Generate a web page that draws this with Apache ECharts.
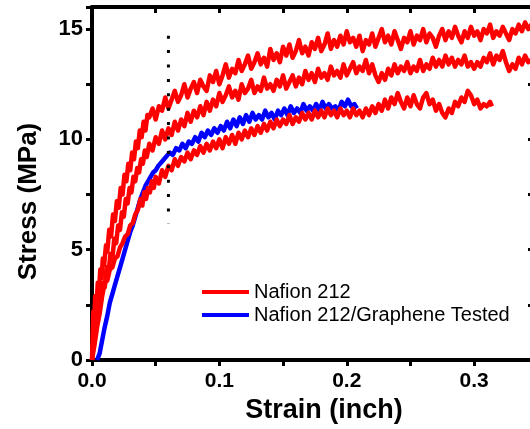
<!DOCTYPE html>
<html>
<head>
<meta charset="utf-8">
<script src="https://cdn.jsdelivr.net/npm/echarts@6/dist/echarts.min.js"></script>
<style>
html,body{margin:0;padding:0;overflow:hidden;background:#fff;}
#chart{width:560px;height:429px;}
</style>
</head>
<body>
<div id="chart"></div>
<script>
// ---- data (strain in inch, stress in MPa) ----
var nafionA = [
[0,0],[0.0005,1.0],[0.0010,2.2],[0.0015,1.5],[0.0025,2.9],[0.0035,2.4],[0.0045,3.5],[0.0055,3.1],[0.0065,4.1],[0.0075,3.7],
[0.0085,4.6],[0.0095,4.3],[0.0110,5.2],[0.0120,4.9],[0.0135,5.9],[0.0150,5.6],[0.0165,6.6],[0.0180,6.3],[0.0195,7.2],[0.0210,6.9],
[0.0225,7.8],[0.0240,7.5],[0.0255,8.4],[0.0270,8.1],[0.0285,8.9],[0.0300,8.6],[0.0315,9.4],[0.0330,9.1],[0.0345,9.9],[0.0360,9.6],
[0.0375,10.4],[0.0390,10.1],[0.0405,10.8],[0.0420,10.4],[0.0435,11.1],
[0.0450,11.0],[0.0475,11.4],[0.0500,10.9],[0.0525,11.5],[0.0550,11.3],[0.0575,11.9],[0.0600,11.4],[0.0625,11.8],[0.0650,12.2],[0.0675,11.7],
[0.0700,12.0],[0.0725,12.5],[0.0750,11.9],[0.0775,12.3],[0.0800,12.6],[0.0825,12.1],[0.0850,12.7],[0.0875,12.4],[0.0900,12.2],[0.0925,12.9],
[0.0950,12.6],[0.0975,13.1],[0.1000,12.5],[0.1025,12.9],[0.1050,13.4],[0.1075,12.8],[0.1100,13.2],[0.1125,13.0],[0.1150,13.6],[0.1175,13.1],
[0.1200,13.4],[0.1225,13.8],[0.1250,13.2],[0.1275,13.5],[0.1300,13.9],[0.1325,13.4],[0.1350,13.7],[0.1375,13.3],[0.1400,14.1],[0.1425,13.6],
[0.1450,13.9],[0.1475,13.5],[0.1500,14.2],[0.1525,13.8],[0.1550,14.3],[0.1575,13.7],[0.1600,14.0],[0.1625,14.5],[0.1650,13.9],[0.1675,14.2],
[0.1700,13.8],[0.1725,14.4],[0.1750,14.1],[0.1775,14.6],[0.1800,14.0],[0.1825,14.3],[0.1850,14.8],[0.1875,14.1],[0.1900,14.5],[0.1925,14.2],
[0.1950,14.7],[0.1975,14.3],[0.2000,14.9],[0.2025,14.4],[0.2050,14.6],[0.2075,14.2],[0.2100,14.7],[0.2125,14.0],[0.2150,14.5],[0.2175,14.3],
[0.2200,14.8],[0.2225,14.2],[0.2250,14.6],[0.2275,15.0],[0.2300,14.4],[0.2325,14.7],[0.2350,14.3],[0.2375,14.9],[0.2400,14.5],[0.2425,14.1],
[0.2450,14.6],[0.2475,14.4],[0.2500,14.9],[0.2525,14.3],[0.2550,14.7],[0.2575,14.5],[0.2600,15.0],[0.2625,14.4],[0.2650,14.8],[0.2675,14.6],
[0.2700,14.2],[0.2725,14.7],[0.2750,15.0],[0.2775,14.5],[0.2800,14.9],[0.2825,14.6],[0.2850,15.1],[0.2875,14.7],[0.2900,14.4],[0.2925,14.9],
[0.2950,14.6],[0.2975,15.1],[0.3000,14.7],[0.3025,14.9],[0.3050,14.5],[0.3075,15.0],[0.3100,14.8],[0.3125,15.2],[0.3150,14.6],[0.3175,14.9],
[0.3200,14.7],[0.3225,15.1],[0.3250,14.8],[0.3275,14.5],[0.3300,15.0],[0.3325,14.8],[0.3350,15.2],[0.3375,14.9],[0.3400,15.3],[0.3425,15.0],
[0.3450,15.2],[0.3480,14.9]
];
var nafionB = [
[0,0],[0.0010,0.7],[0.0020,1.6],[0.0030,1.2],[0.0040,2.3],[0.0050,2.0],[0.0060,2.9],[0.0070,2.7],[0.0085,3.5],[0.0100,3.3],
[0.0115,4.2],[0.0130,4.0],[0.0145,4.8],[0.0160,4.6],[0.0175,5.5],[0.0190,5.3],[0.0205,6.1],[0.0220,5.9],[0.0235,6.7],[0.0250,6.5],
[0.0265,7.3],[0.0280,7.1],[0.0295,7.8],[0.0310,7.6],[0.0325,8.3],[0.0340,8.1],[0.0355,8.7],[0.0370,8.5],[0.0385,9.1],[0.0400,8.9],
[0.0415,9.5],[0.0430,9.2],
[0.0450,9.8],[0.0475,9.5],[0.0500,10.1],[0.0525,9.8],[0.0550,10.4],[0.0575,10.0],[0.0600,10.5],[0.0625,10.2],[0.0650,10.8],[0.0675,10.4],
[0.0700,10.9],[0.0725,10.6],[0.0750,11.2],[0.0775,10.8],[0.0800,11.3],[0.0825,11.0],[0.0850,11.5],[0.0875,11.1],[0.0900,11.7],[0.0925,11.3],
[0.0950,11.8],[0.0975,11.5],[0.1000,12.1],[0.1025,11.7],[0.1050,12.0],[0.1075,12.4],[0.1100,11.9],[0.1125,12.2],[0.1150,11.8],[0.1175,12.5],
[0.1200,12.1],[0.1225,12.3],[0.1250,12.7],[0.1275,12.1],[0.1300,12.4],[0.1325,12.2],[0.1350,12.8],[0.1375,12.3],[0.1400,12.5],[0.1425,12.2],
[0.1450,12.7],[0.1475,12.4],[0.1500,12.9],[0.1525,12.3],[0.1550,12.6],[0.1575,12.9],[0.1600,12.4],[0.1625,12.8],[0.1650,12.5],[0.1675,13.1],
[0.1700,12.7],[0.1725,13.0],[0.1750,12.6],[0.1775,13.2],[0.1800,12.8],[0.1825,13.0],[0.1850,12.7],[0.1875,13.3],[0.1900,12.9],[0.1925,13.1],
[0.1950,12.8],[0.1975,13.4],[0.2000,12.9],[0.2025,13.2],[0.2050,13.5],[0.2075,13.0],[0.2100,13.3],[0.2125,13.1],[0.2150,13.6],[0.2175,13.0],
[0.2200,13.4],[0.2225,12.9],[0.2250,12.6],[0.2275,13.0],[0.2300,12.7],[0.2325,13.2],[0.2350,12.9],[0.2375,13.4],[0.2400,13.0],[0.2425,13.3],
[0.2450,13.1],[0.2475,13.5],[0.2500,13.0],[0.2525,13.3],[0.2550,13.1],[0.2575,13.6],[0.2600,13.1],[0.2625,13.4],[0.2650,13.2],[0.2675,13.7],
[0.2700,13.3],[0.2725,13.6],[0.2750,13.3],[0.2775,13.8],[0.2800,13.4],[0.2825,13.7],[0.2850,13.3],[0.2875,13.6],[0.2900,13.4],[0.2925,13.8],
[0.2950,13.3],[0.2975,13.5],[0.3000,13.2],[0.3025,13.5],[0.3050,13.3],[0.3075,13.7],[0.3100,13.5],[0.3125,13.9],[0.3150,13.4],[0.3175,13.8],
[0.3200,13.6],[0.3225,14.0],[0.3250,13.5],[0.3275,13.1],[0.3300,13.4],[0.3325,13.2],[0.3350,13.7],[0.3375,13.4],[0.3400,13.8],[0.3425,13.5],
[0.3450,13.6],[0.3480,13.5]
];
var nafionC = [
[0,0],[0.002,0.7],[0.004,1.5],[0.006,2.1],[0.008,2.9],[0.010,3.5],[0.012,3.6],[0.014,4.1],[0.016,4.2],[0.018,4.6],
[0.020,4.7],[0.022,5.1],[0.024,5.3],[0.026,5.6],[0.028,5.7],[0.030,6.1],[0.032,6.2],[0.034,6.6],[0.036,6.8],[0.038,7.3],
[0.0395,7.0],[0.041,7.6],[0.0425,7.3],[0.044,7.8],[0.0455,7.6],[0.047,8.1],[0.0485,7.8],[0.050,8.3],[0.0525,8.0],[0.055,8.6],
[0.0575,8.3],[0.060,8.8],[0.0625,8.6],[0.065,9.1],[0.0675,8.8],[0.070,9.2],[0.0725,9.0],[0.075,9.4],[0.0775,9.1],[0.080,9.5],
[0.0825,9.3],[0.085,9.7],[0.0875,9.4],[0.090,9.8],[0.0925,9.5],[0.095,9.9],[0.0975,9.6],[0.100,10.0],[0.1025,9.6],[0.105,10.1],
[0.1075,9.8],[0.110,10.2],[0.1125,9.8],[0.115,10.3],[0.1175,10.0],[0.120,10.4],[0.1225,10.1],[0.125,10.5],[0.1275,10.2],[0.130,10.6],
[0.1325,10.3],[0.135,10.7],[0.1375,10.4],[0.140,10.8],[0.1425,10.5],[0.145,10.9],[0.1475,10.6],[0.150,10.9],[0.1525,10.7],[0.155,11.1],
[0.1575,10.7],[0.160,11.0],[0.1625,10.8],[0.165,11.2],[0.1675,10.9],[0.170,11.2],[0.1725,10.9],[0.175,11.3],[0.1775,11.0],[0.180,11.3],
[0.1825,11.0],[0.185,11.4],[0.1875,11.1],[0.190,11.3],[0.1925,11.0],[0.195,11.4],[0.1975,11.1],[0.200,11.3],[0.2025,11.0],[0.205,11.4],
[0.2075,11.1],[0.210,11.3],[0.2125,11.0],[0.215,11.4],[0.2175,11.1],[0.220,11.5],[0.2225,11.2],[0.225,11.6],[0.2275,11.3],[0.230,11.8],
[0.2325,11.4],[0.235,11.9],[0.2375,11.6],[0.240,12.1],[0.2425,11.7],[0.245,11.4],[0.2475,11.9],[0.250,11.5],[0.2525,12.0],[0.255,11.6],
[0.2575,11.4],[0.260,11.9],[0.2625,12.1],[0.265,11.6],[0.2675,11.8],[0.270,11.3],[0.2725,11.6],[0.275,11.2],[0.2775,11.0],[0.280,11.4],
[0.2825,11.2],[0.285,11.7],[0.2875,11.5],[0.290,11.9],[0.2925,11.7],[0.295,12.2],[0.2975,12.0],[0.300,11.6],[0.3025,11.8],[0.305,11.4],
[0.3075,11.6],[0.310,11.5],[0.3125,11.7],[0.314,11.5]
];
var grapheneTested = [
[0.004,0],[0.006,0.3],[0.008,0.9],[0.010,1.5],[0.012,2.0],[0.014,2.6],[0.016,3.0],[0.018,3.4],[0.020,3.8],[0.022,4.2],
[0.024,4.6],[0.026,5.0],[0.028,5.4],[0.030,5.8],[0.032,6.1],[0.034,6.5],[0.036,6.9],[0.038,7.3],[0.040,7.6],[0.042,7.9],
[0.044,8.1],[0.046,8.3],[0.048,8.5],[0.050,8.6],[0.052,8.8],[0.055,9.0],[0.058,9.2],
[0.061,9.4],[0.0635,9.3],[0.066,9.6],[0.0685,9.5],[0.071,9.8],[0.0735,9.6],[0.076,9.9],[0.0785,9.8],[0.081,10.1],[0.0835,9.9],
[0.086,10.3],[0.0885,10.1],[0.091,10.4],[0.0935,10.2],[0.096,10.5],[0.0985,10.3],[0.101,10.6],[0.1035,10.4],[0.106,10.8],[0.1085,10.5],
[0.111,10.9],[0.1135,10.6],[0.116,11.0],[0.1185,10.7],[0.121,11.1],[0.1235,10.8],[0.126,11.2],[0.1285,10.9],[0.131,11.1],[0.1335,10.9],
[0.136,11.3],[0.1385,11.0],[0.141,11.2],[0.1435,10.9],[0.146,11.3],[0.1485,11.1],[0.151,11.4],[0.1535,11.1],[0.156,11.5],[0.1585,11.2],
[0.161,11.4],[0.1635,11.2],[0.166,11.6],[0.1685,11.3],[0.171,11.5],[0.1735,11.3],[0.176,11.6],[0.1785,11.3],[0.181,11.7],[0.1835,11.4],
[0.186,11.6],[0.1885,11.4],[0.191,11.5],[0.1935,11.3],[0.196,11.7],[0.1985,11.5],[0.201,11.8],[0.2035,11.5],[0.206,11.6],[0.208,11.4]
];
var guideLine = [[0.06,14.7],[0.06,6.2]];
var seriesNames = ['Nafion 212','Nafion 212/Graphene Tested'];
var xTitle = 'Strain (inch)';
var yTitle = 'Stress (MPa)';

var chart = echarts.init(document.getElementById('chart'), null, {renderer:'canvas'});
var FONT = '"Liberation Sans", Arial, sans-serif';
var axisLineStyle = {color:'#000', width:4};
var tickStyle = {color:'#000', width:3};

function redSeries(data){
  return {name:seriesNames[0], type:'line', data:data, showSymbol:false, symbol:'none',
    lineStyle:{color:'#ff0000', width:4.5, join:'round'}, itemStyle:{color:'#ff0000'}, z:3};
}

chart.setOption({
  animation:false,
  backgroundColor:'#fff',
  grid:{left:92, top:7, right:26, bottom:69, containLabel:false},
  legend:{
    data:seriesNames, orient:'vertical', left:197, top:277, itemGap:3,
    itemWidth:47, itemHeight:4, icon:'rect',
    textStyle:{fontFamily:FONT, fontSize:20, color:'#000'}
  },
  xAxis:[{
    type:'value', min:0, max:0.347, interval:0.05, position:'bottom',
    name:xTitle, nameLocation:'middle', nameGap:37,
    nameTextStyle:{fontFamily:FONT, fontSize:27, fontWeight:'bold', color:'#000', padding:[0,0,0,22]},
    axisLine:{show:true, onZero:false, lineStyle:axisLineStyle},
    axisTick:{show:true, inside:false, length:6, lineStyle:tickStyle},
    axisLabel:{interval:0, margin:11, fontFamily:FONT, fontSize:21, fontWeight:'bold', color:'#000',
      formatter:function(v){ var k=Math.round(v*10); return (Math.abs(v*10-k)<1e-6 && k<=3)? (k/10).toFixed(1):''; }},
    splitLine:{show:false}
  },{
    type:'value', min:0, max:0.347, interval:0.05, position:'top',
    axisLine:{show:true, onZero:false, lineStyle:axisLineStyle},
    axisTick:{show:true, inside:true, length:6, lineStyle:tickStyle},
    axisLabel:{show:false}, splitLine:{show:false}
  }],
  yAxis:[{
    type:'value', min:0, max:16, interval:2.5, position:'left',
    name:yTitle, nameLocation:'middle', nameGap:50, nameRotate:90,
    nameTextStyle:{fontFamily:FONT, fontSize:26, fontWeight:'bold', color:'#000', padding:[0,36,0,0]},
    axisLine:{show:true, onZero:false, lineStyle:axisLineStyle},
    axisTick:{show:true, inside:false, length:6, lineStyle:tickStyle},
    axisLabel:{interval:0, margin:9, fontFamily:FONT, fontSize:22, fontWeight:'bold', color:'#000',
      formatter:function(v){ return (v%5===0 && v<=15)? String(v):''; }},
    splitLine:{show:false}
  },{
    type:'value', min:0, max:16, interval:2.5, position:'right',
    axisLine:{show:true, onZero:false, lineStyle:axisLineStyle},
    axisTick:{show:true, inside:true, length:6, lineStyle:tickStyle},
    axisLabel:{show:false}, splitLine:{show:false}
  }],
  series:[
    {name:seriesNames[1], type:'line', data:grapheneTested, showSymbol:false, symbol:'none',
      lineStyle:{color:'#0000ff', width:4.5, join:'round'}, itemStyle:{color:'#0000ff'}, z:2},
    redSeries(nafionC),
    redSeries(nafionB),
    redSeries(nafionA),
    {name:'guide', type:'line', data:guideLine, showSymbol:false, symbol:'none', silent:true,
      lineStyle:{color:'#000', width:3, type:[3,11.4], cap:'butt'}, z:4}
  ]
});
</script>
</body>
</html>
